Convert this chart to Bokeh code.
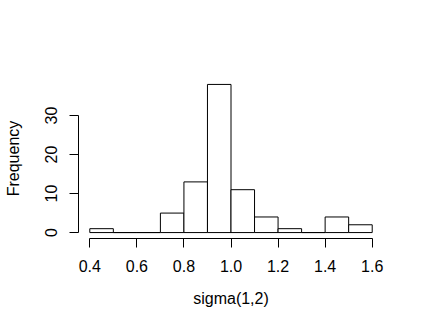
from bokeh.plotting import figure
from bokeh.models import Range1d, FixedTicker, PrintfTickFormatter
from bokeh.embed import file_html
from bokeh.resources import INLINE

bin_left = [0.4, 0.5, 0.6, 0.7, 0.8, 0.9, 1.0, 1.1, 1.2, 1.3, 1.4, 1.5]
bin_right = [0.5, 0.6, 0.7, 0.8, 0.9, 1.0, 1.1, 1.2, 1.3, 1.4, 1.5, 1.6]
counts = [1, 0, 0, 5, 13, 38, 11, 4, 1, 0, 4, 2]
x_ticks = [0.4, 0.6, 0.8, 1.0, 1.2, 1.4, 1.6]
y_ticks = [0, 10, 20, 30]

p = figure(width=408, height=320, output_backend="svg", toolbar_location=None,
           x_range=Range1d(0.352, 1.648), y_range=Range1d(-1.52, 39.52),
           min_border_left=78, min_border_right=25, min_border_top=78, min_border_bottom=82)

p.quad(left=bin_left, right=bin_right, bottom=[0] * len(counts), top=counts,
       fill_color="white", line_color="black", line_width=1)

p.xgrid.visible = False
p.ygrid.visible = False
p.outline_line_color = None
p.background_fill_color = "white"
p.border_fill_color = "white"

FONT = "Liberation Sans"
for ax in (p.xaxis[0], p.yaxis[0]):
    ax.axis_line_color = "black"
    ax.major_tick_line_color = "black"
    ax.minor_tick_line_color = None
    ax.major_tick_in = 0
    ax.major_tick_out = 9
    ax.major_label_text_font = FONT
    ax.major_label_text_font_size = "16px"
    ax.major_label_text_color = "black"
    ax.axis_label_text_font = FONT
    ax.axis_label_text_font_size = "16px"
    ax.axis_label_text_font_style = "normal"
    ax.axis_label_text_color = "black"

p.xaxis.ticker = FixedTicker(ticks=x_ticks)
p.xaxis.formatter = PrintfTickFormatter(format="%.1f")
p.xaxis.bounds = (x_ticks[0], x_ticks[-1])
p.xaxis.axis_label = "sigma(1,2)"
p.xaxis.major_label_standoff = 12
p.xaxis.axis_label_standoff = 15

p.yaxis.ticker = FixedTicker(ticks=y_ticks)
p.yaxis.bounds = (y_ticks[0], y_ticks[-1])
p.yaxis.axis_label = "Frequency"
p.yaxis.major_label_orientation = "vertical"
p.yaxis.major_label_standoff = 12
p.yaxis.axis_label_standoff = 21

open("out.html", "w").write(file_html(p, INLINE))
